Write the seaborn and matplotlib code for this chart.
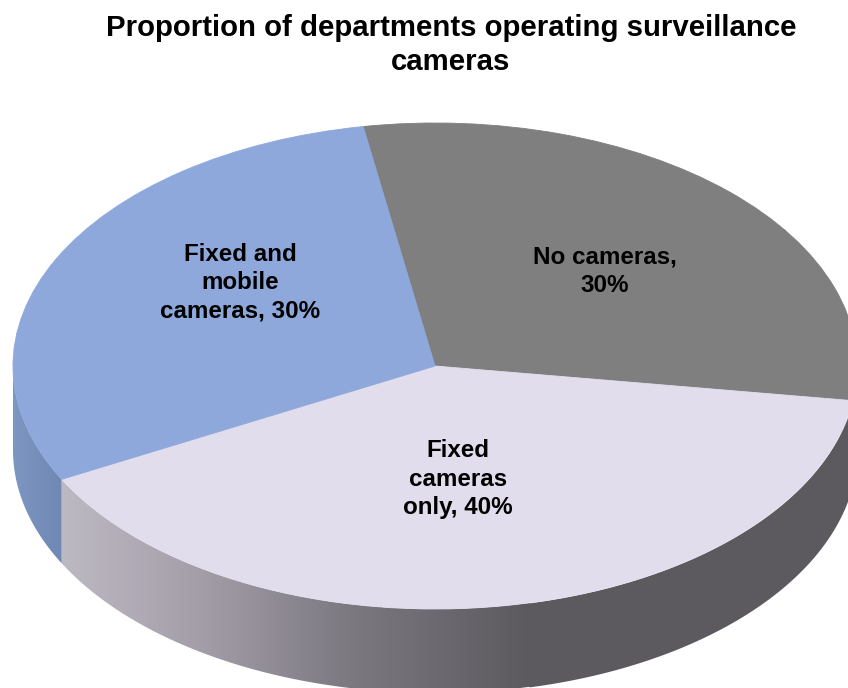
import numpy as np
import matplotlib
matplotlib.use("Agg")
import matplotlib.pyplot as plt
from matplotlib.colors import LinearSegmentedColormap
from matplotlib.patches import Polygon
import seaborn as sns

# Survey shares, listed clockwise from the top of the pie
categories = ["No cameras", "Fixed cameras only", "Fixed and mobile cameras"]
shares = [30, 40, 30]
label_text = ["No cameras,\n30%", "Fixed\ncameras\nonly, 40%", "Fixed and\nmobile\ncameras, 30%"]
title_text = "Proportion of departments operating surveillance\ncameras"

top_colors = ["#7F7F7F", "#E2DDEC", "#8EA8DB"]

W, H = 848, 688
CX, CY = 435, 366      # pie centre, pixels
RX, RY = 422, 243      # ellipse semi-axes, pixels
DEPTH = 84 / RY        # wall height in unit-circle coordinates
START = 99.8

sns.set_theme(style="white")
plt.rcParams["font.family"] = ["Liberation Sans", "DejaVu Sans"]

fig = plt.figure(figsize=(W / 100, H / 100), dpi=100, facecolor="white")
ax = fig.add_axes([0, 0, 1, 1])

wedges, _ = ax.pie(shares, colors=sns.color_palette(top_colors), startangle=START,
                   counterclock=False, radius=1, center=(0, 0),
                   wedgeprops={"linewidth": 0.6, "zorder": 5})
for w, c in zip(wedges, top_colors):
    w.set_edgecolor(c)

# The unit circle becomes an ellipse through the axis limits
xlim = (-CX / RX, (W - CX) / RX)
ylim = (-(H - CY) / RY, CY / RY)


def wall(t1, t2, stops, x_range):
    """Side wall between two angles, shaded left to right with a gradient."""
    t = np.radians(np.linspace(t1, t2, 200))
    upper = np.column_stack([np.cos(t), np.sin(t)])
    lower = np.column_stack([np.cos(t[::-1]), np.sin(t[::-1]) - DEPTH])
    clip = Polygon(np.vstack([upper, lower]), closed=True, transform=ax.transData,
                   facecolor="none", edgecolor="none")
    ax.add_patch(clip)
    cmap = LinearSegmentedColormap.from_list("wall", stops)
    grad = np.linspace(0, 1, 256)[None, :]
    img = ax.imshow(grad, cmap=cmap, vmin=0, vmax=1, aspect="auto", zorder=2,
                    extent=[x_range[0], x_range[1], ylim[0], ylim[1]], interpolation="bilinear")
    img.set_clip_path(clip)


def px_x(x):
    return (x - CX) / RX


# Wall boundaries follow the slice angles computed by the pie
left_boundary = wedges[1].theta1 % 360      # fixed only / fixed and mobile
right_boundary = wedges[1].theta2 % 360     # no cameras / fixed only

wall(180, left_boundary, ["#7D97C2", "#6E87B3"], (px_x(13), px_x(63)))
wall(left_boundary, right_boundary,
     [(0, "#BDB9C3"), (0.30, "#A39DA8"), (0.62, "#7B7880"), (1, "#5C595F")],
     (px_x(62), px_x(530)))
t_end = np.radians(np.linspace(right_boundary, 360, 30))
ax.fill_between(np.cos(t_end), np.sin(t_end) - DEPTH, np.sin(t_end),
                color="#5C595F", linewidth=0, zorder=2)
# Flat dark stretch of the wall to the right of the gradient
t_flat = np.radians(np.linspace(np.degrees(np.arccos(px_x(529))) * -1 + 360, right_boundary, 200))
ax.fill_between(np.cos(t_flat), np.sin(t_flat) - DEPTH, np.sin(t_flat),
                color="#5C595F", linewidth=0, zorder=2)

ax.set_xlim(xlim)
ax.set_ylim(ylim)
ax.set_aspect("auto")
ax.axis("off")

fig.text(451 / W, 1 - 45 / H, title_text, ha="center", va="center", fontsize=21.2,
         fontweight="bold", color="black", linespacing=1.28)

label_pos = [(605, 271.5), (458, 479), (240, 283)]
for (x, y), s in zip(label_pos, label_text):
    fig.text(x / W, 1 - y / H, s, ha="center", va="center", fontsize=17.4,
             fontweight="bold", color="black", linespacing=1.28, zorder=10)

fig.savefig("out.png", dpi=100)
